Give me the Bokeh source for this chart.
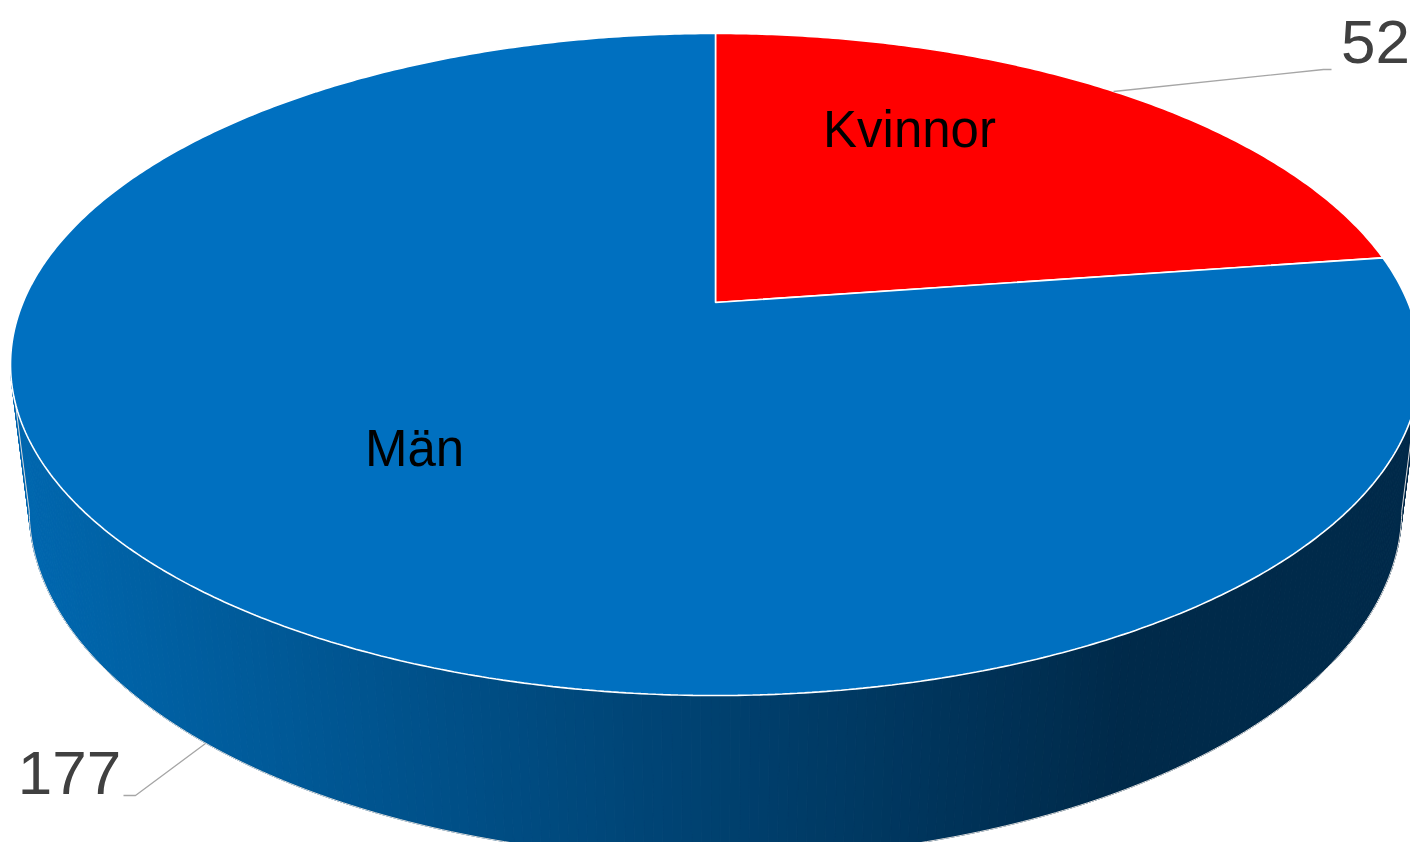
import numpy as np
from bokeh.plotting import figure
from bokeh.models import Range1d
from bokeh.embed import file_html
from bokeh.resources import INLINE
from bokeh.core.properties import value

# ---- data ----
categories = ["Kvinnor", "Män"]
values = [52, 177]
top_colors = ["#FF0000", "#0070C0"]
value_labels = [str(v) for v in values]

# ---- 3D perspective pie geometry (screen pixels) ----
CX, CY = 715.0, 302.0      # projected pie centre
A, B = 692.5, 319.4        # horizontal / depth radii
K = 0.1873                 # perspective foreshortening
C_DEPTH = 0.02627          # perspective for depth of side
BETA = 147.1               # thickness of the pie


def project(theta, z):
    """theta clockwise from the back (12 o'clock), z = 0 top, 1 bottom."""
    u = np.sin(theta)
    v = np.cos(theta)
    w = 1 + K * v + C_DEPTH * z
    x = CX + A * u / w
    y = CY + (-B * v + BETA * z) / w
    return x, y


def side_color(x):
    t = np.clip((x - 10.0) / (1120.0 - 10.0), 0, 1)
    g = 104 + (42 - 104) * t
    b = 176 + (74 - 176) * t
    return "#%02x%02x%02x" % (0, int(round(g)), int(round(b)))


p = figure(width=1410, height=842,
           x_range=Range1d(0, 1410), y_range=Range1d(842, 0),
           output_backend="svg", toolbar_location=None, min_border=0)
p.axis.visible = False
p.grid.visible = False
p.outline_line_color = None
p.background_fill_color = "white"
p.border_fill_color = "white"

# ---- side (front, visible half) ----
t1 = np.arccos(-K)
t2 = 2 * np.pi - t1
th = np.linspace(t1, t2, 240)
xt, yt = project(th, 0.0)
xb, yb = project(th, 1.0)
sxs, sys_, scol = [], [], []
for i in range(len(th) - 1):
    sxs.append([xt[i], xt[i + 1], xb[i + 1], xb[i]])
    sys_.append([yt[i], yt[i + 1], yb[i + 1], yb[i]])
    scol.append(side_color(0.25 * (xt[i] + xt[i + 1] + xb[i] + xb[i + 1])))
p.patches(xs=sxs, ys=sys_, fill_color=scol, line_color=scol, line_width=1)

# side outline
ox = [xt[0]] + list(xb) + [xt[-1]]
oy = [yt[0]] + list(yb) + [yt[-1]]
p.line(ox, oy, line_color="#DDDDDD", line_width=1)

# ---- top slices ----
total = float(sum(values))
start = 0.0
txs, tys = [], []
for v in values:
    end = start + 2 * np.pi * v / total
    n = max(int(np.degrees(end - start) * 2), 8)
    tt = np.linspace(start, end, n)
    x, y = project(tt, 0.0)
    txs.append([CX] + list(x))
    tys.append([CY] + list(y))
    start = end
p.patches(xs=txs, ys=tys, fill_color=top_colors, line_color="white", line_width=1.6)

# ---- category labels ----
p.text(x=[909, 414], y=[129, 448], text=categories,
       text_font=value("Liberation Sans"), text_font_size="51px",
       text_align="center", text_baseline="alphabetic", text_color="black")

# ---- value labels + leader lines ----
p.line([1113, 1323, 1331], [91, 69, 69], line_color="#A6A6A6", line_width=1.3)
p.line([123, 135, 205], [795, 795, 743], line_color="#A6A6A6", line_width=1.3)
p.text(x=[1375, 69], y=[41, 772], text=value_labels,
       text_font=value("Liberation Sans"), text_font_size="62px",
       text_align="center", text_baseline="alphabetic", text_color="#404040")

open("out.html", "w").write(file_html(p, INLINE))
